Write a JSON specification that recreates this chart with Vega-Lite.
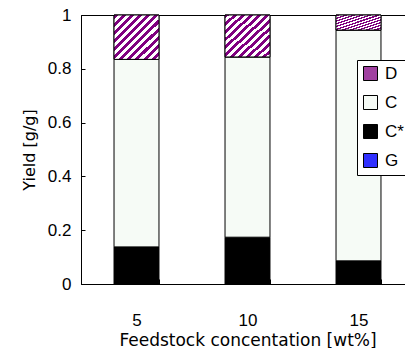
{
  "$schema": "https://vega.github.io/schema/vega-lite/v6.json",
  "autosize": "none",
  "padding": {"left": 81, "top": 15, "right": 0, "bottom": 64},
  "width": 333,
  "height": 269,
  "background": "white",
  "config": {
    "view": {"stroke": "black", "strokeWidth": 1},
    "axis": {"grid": false, "domainColor": "black", "tickColor": "black", "labelColor": "black", "titleColor": "black", "labelFont": "Liberation Sans", "titleFont": "DejaVu Sans", "labelFontSize": 17, "titleFontSize": 16, "titleFontWeight": "normal"}
  },
  "data": {
    "values": [
      {"conc": "5", "component": "G", "layer": 0, "value": 0},
      {"conc": "5", "component": "C*", "layer": 1, "value": 0.138},
      {"conc": "5", "component": "C", "layer": 2, "value": 0.697},
      {"conc": "5", "component": "D", "layer": 3, "value": 0.165},
      {"conc": "10", "component": "G", "layer": 0, "value": 0},
      {"conc": "10", "component": "C*", "layer": 1, "value": 0.174},
      {"conc": "10", "component": "C", "layer": 2, "value": 0.670},
      {"conc": "10", "component": "D", "layer": 3, "value": 0.156},
      {"conc": "15", "component": "G", "layer": 0, "value": 0},
      {"conc": "15", "component": "C*", "layer": 1, "value": 0.086},
      {"conc": "15", "component": "C", "layer": 2, "value": 0.858},
      {"conc": "15", "component": "D", "layer": 3, "value": 0.056}
    ]
  },
  "transform": [
    {"stack": "value", "groupby": ["conc"], "sort": [{"field": "layer", "order": "ascending"}], "as": ["y0", "y1"]}
  ],
  "encoding": {
    "x": {
      "field": "conc", "type": "ordinal", "sort": ["5", "10", "15"],
      "scale": {"paddingInner": 0.595, "paddingOuter": 0.2975},
      "axis": {"title": "Feedstock concentation [wt%]", "titleFontSize": 17, "labelAngle": 0, "tickBand": "extent", "tickSize": -5, "labelPadding": 33, "titlePadding": 4}
    },
    "y": {
      "field": "y0", "type": "quantitative",
      "scale": {"domain": [0, 1], "nice": false},
      "axis": {"title": "Yield [g/g]", "values": [0, 0.2, 0.4, 0.6, 0.8, 1], "format": "~g", "tickSize": -4, "labelPadding": 14, "titlePadding": 10}
    },
    "y2": {"field": "y1"}
  },
  "layer": [
    {
      "mark": {"type": "bar", "stroke": "black", "strokeWidth": 1, "fillOpacity": 1},
      "encoding": {
        "color": {
          "field": "component", "type": "nominal",
          "scale": {"domain": ["D", "C", "C*", "G"], "range": ["#a040a0", "#f6fbf6", "black", "#3030ff"]},
          "legend": {
            "title": null, "orient": "none", "legendX": 276, "legendY": 45,
            "fillColor": "white", "strokeColor": "black", "padding": 5,
            "symbolType": "square", "symbolSize": 196, "symbolStrokeColor": "black", "symbolStrokeWidth": 1, "symbolOpacity": 1,
            "labelFont": "Liberation Sans", "labelFontSize": 17, "labelColor": "black", "labelOffset": 6,
            "rowPadding": 10, "cornerRadius": 0
          }
        }
      }
    },
    {
      "transform": [{"filter": "datum.component === 'D'"}],
      "mark": {"type": "bar", "stroke": "black", "strokeWidth": 1, "fillOpacity": 1,
        "fill": {"gradient": "linear", "x1": 0, "y1": 0, "x2": 1, "y2": 1, "stops": [
            {"offset": 0, "color": "#800080"}, {"offset": 0.045, "color": "#800080"}, {"offset": 0.045, "color": "white"}, {"offset": 0.0909, "color": "white"},
            {"offset": 0.0909, "color": "#800080"}, {"offset": 0.1364, "color": "#800080"}, {"offset": 0.1364, "color": "white"}, {"offset": 0.1818, "color": "white"},
            {"offset": 0.1818, "color": "#800080"}, {"offset": 0.2273, "color": "#800080"}, {"offset": 0.2273, "color": "white"}, {"offset": 0.2727, "color": "white"},
            {"offset": 0.2727, "color": "#800080"}, {"offset": 0.3182, "color": "#800080"}, {"offset": 0.3182, "color": "white"}, {"offset": 0.3636, "color": "white"},
            {"offset": 0.3636, "color": "#800080"}, {"offset": 0.4091, "color": "#800080"}, {"offset": 0.4091, "color": "white"}, {"offset": 0.4545, "color": "white"},
            {"offset": 0.4545, "color": "#800080"}, {"offset": 0.5, "color": "#800080"}, {"offset": 0.5, "color": "white"}, {"offset": 0.5455, "color": "white"},
            {"offset": 0.5455, "color": "#800080"}, {"offset": 0.5909, "color": "#800080"}, {"offset": 0.5909, "color": "white"}, {"offset": 0.6364, "color": "white"},
            {"offset": 0.6364, "color": "#800080"}, {"offset": 0.6818, "color": "#800080"}, {"offset": 0.6818, "color": "white"}, {"offset": 0.7273, "color": "white"},
            {"offset": 0.7273, "color": "#800080"}, {"offset": 0.7727, "color": "#800080"}, {"offset": 0.7727, "color": "white"}, {"offset": 0.8182, "color": "white"},
            {"offset": 0.8182, "color": "#800080"}, {"offset": 0.8636, "color": "#800080"}, {"offset": 0.8636, "color": "white"}, {"offset": 0.9091, "color": "white"},
            {"offset": 0.9091, "color": "#800080"}, {"offset": 0.9545, "color": "#800080"}, {"offset": 0.9545, "color": "white"}, {"offset": 1, "color": "white"}
          ]}
      }
    }
  ]
}
